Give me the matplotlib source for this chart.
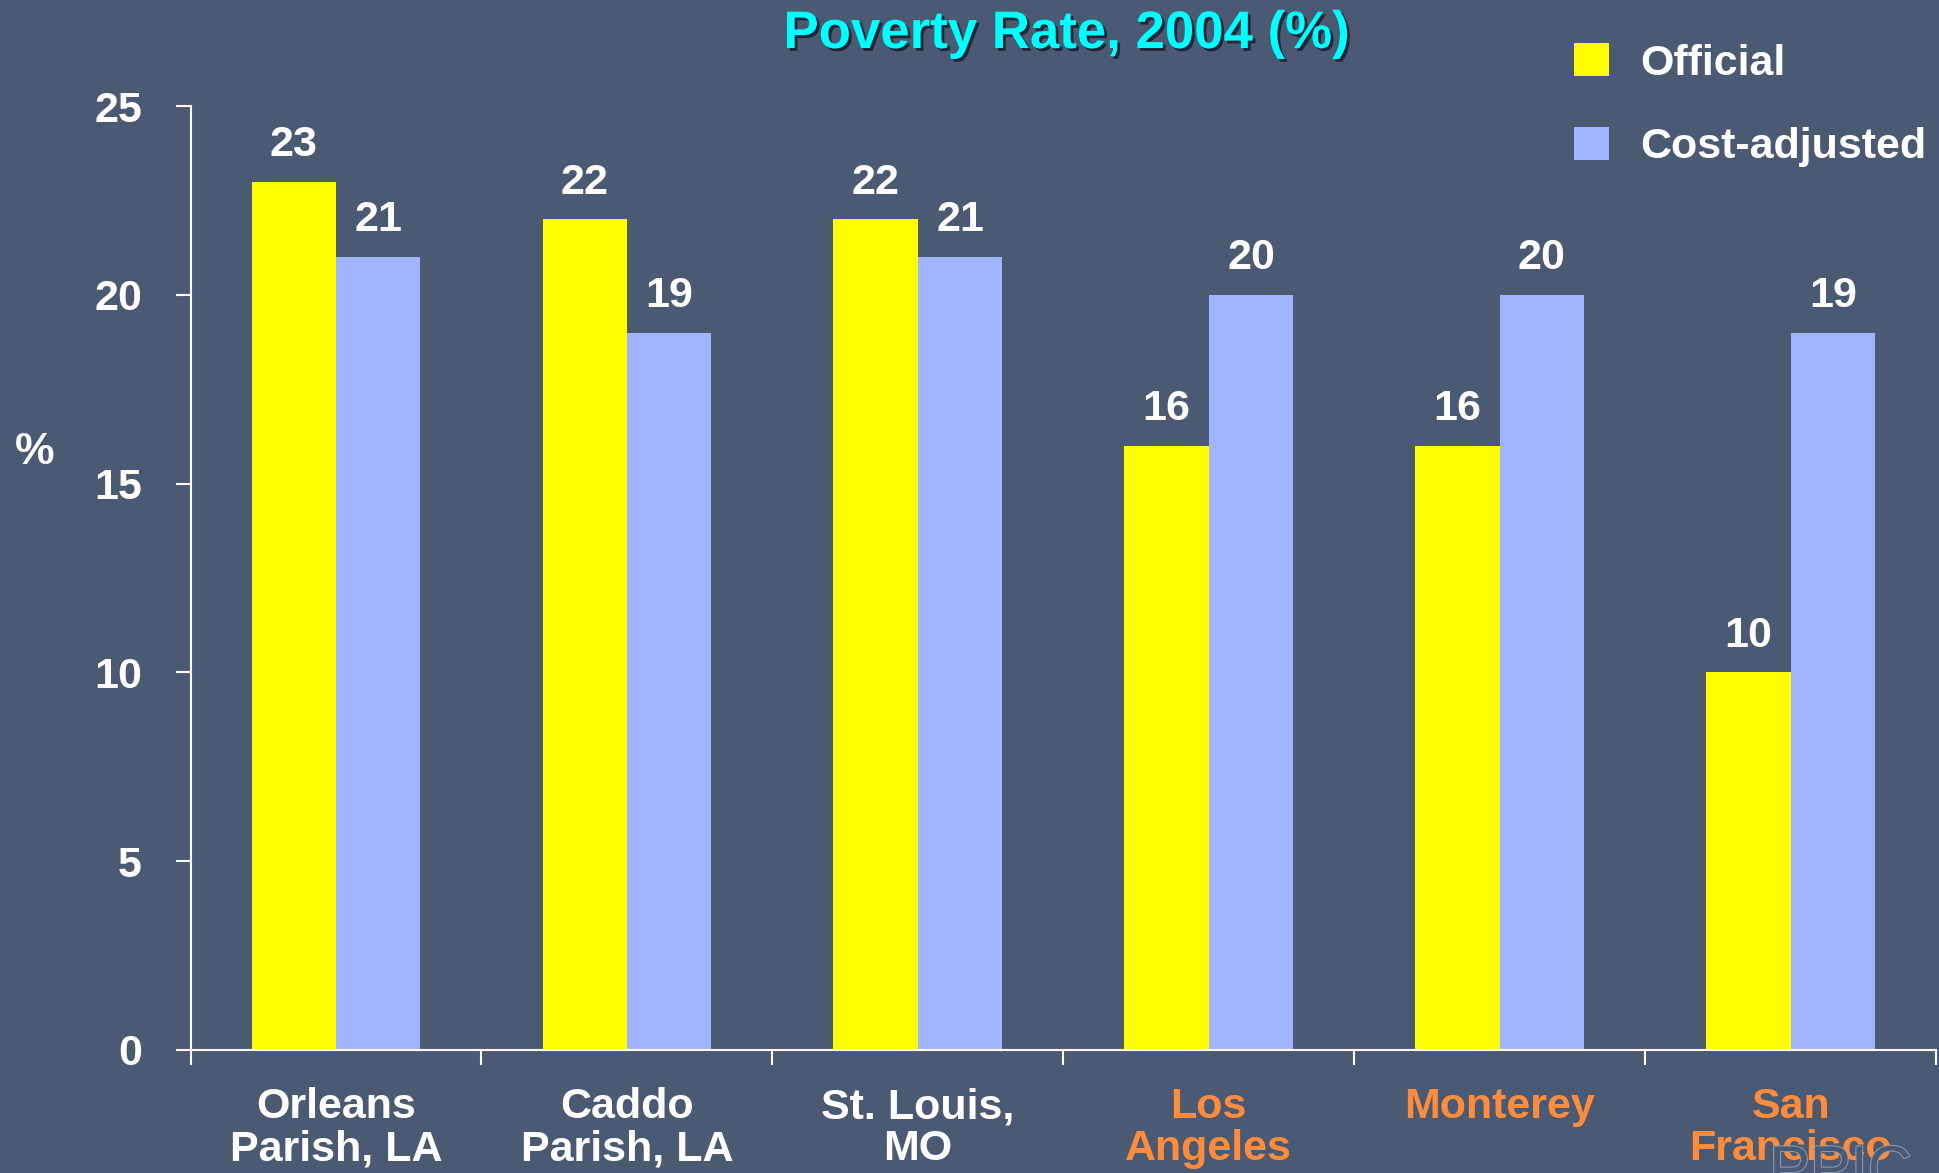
import matplotlib
matplotlib.use("Agg")
import matplotlib.pyplot as plt
import matplotlib.patheffects as pe
import numpy as np

categories = ["Orleans\nParish, LA", "Caddo\nParish, LA", "St. Louis,\nMO", "Los\nAngeles", "Monterey", "San\nFrancisco"]
official = [23, 22, 22, 16, 16, 10]
cost_adjusted = [21, 19, 21, 20, 20, 19]
label_colors = ["white", "white", "white", "#FF8C3C", "#FF8C3C", "#FF8C3C"]
yticks = [0, 5, 10, 15, 20, 25]

BG = "#4A5A73"
YEL = "#FFFF00"
BLU = "#A0B4FF"
FONT = "Liberation Sans"
FS = 31

plt.rcParams["font.family"] = [FONT, "DejaVu Sans"]
plt.rcParams["font.weight"] = "bold"

fig = plt.figure(figsize=(19.4, 11.73), dpi=100, facecolor=BG)
ax = fig.add_axes([0.0982, 0.1049, 0.8998, 0.8047], facecolor=BG)

x = np.arange(len(categories))
w = 0.29
b1 = ax.bar(x - w / 2, official, width=w, color=YEL, label="Official")
b2 = ax.bar(x + w / 2, cost_adjusted, width=w, color=BLU, label="Cost-adjusted")

for bars, vals in ((b1, official), (b2, cost_adjusted)):
    for r, v in zip(bars, vals):
        ax.annotate(f"{v}", (r.get_x() + r.get_width() / 2, v), xytext=(0, 12),
                    textcoords="offset points", ha="center", va="bottom",
                    color="white", fontsize=FS, fontweight="bold")

ax.set_xlim(-0.5, len(categories) - 0.5)
ax.set_ylim(0, 25)
ax.set_yticks(yticks)
ax.set_yticklabels([str(t) for t in yticks])
ax.tick_params(axis="y", colors="white", labelsize=FS, length=11, width=1.5, pad=24)

ax.set_xticks(x)
ax.set_xticklabels(categories, linespacing=1.05)
ax.set_xticks(np.arange(len(categories) + 1) - 0.5, minor=True)
ax.tick_params(axis="x", which="major", length=0, labelsize=FS, pad=27, labelcolor="white")
ax.tick_params(axis="x", which="minor", length=11, width=1.5, color="white")
for lbl, c in zip(ax.get_xticklabels(), label_colors):
    lbl.set_color(c)
    lbl.set_fontweight("bold")
for lbl in ax.get_yticklabels():
    lbl.set_fontweight("bold")

for s in ["top", "right"]:
    ax.spines[s].set_visible(False)
for s in ["left", "bottom"]:
    ax.spines[s].set_color("white")
    ax.spines[s].set_linewidth(1.5)

fig.text(0.018, 0.614, "%", color="white", fontsize=32, fontweight="bold", ha="center", va="center")

fig.text(0.5495, 0.971, "Poverty Rate, 2004 (%)", color="#00FFFF", fontsize=38, fontweight="bold",
         ha="center", va="center",
         path_effects=[pe.withSimplePatchShadow(offset=(2, -2), shadow_rgbFace="#1A2030", alpha=0.9)])

fig.text(0.912, 0.0, "PPIC", color=BG, fontsize=44, fontweight="normal", ha="left", va="center",
         path_effects=[pe.Stroke(linewidth=1.5, foreground="#8E9BB0"), pe.Normal()])

leg = ax.legend(loc="upper left", bbox_to_anchor=(0.8115, 0.963), bbox_transform=fig.transFigure,
                frameon=False, fontsize=FS, handlelength=0.8, handleheight=0.8,
                handletextpad=0.72, labelspacing=1.0, borderpad=0, borderaxespad=0)
for t in leg.get_texts():
    t.set_color("white")
    t.set_fontweight("bold")

fig.savefig("out.png", dpi=100, facecolor=BG)
